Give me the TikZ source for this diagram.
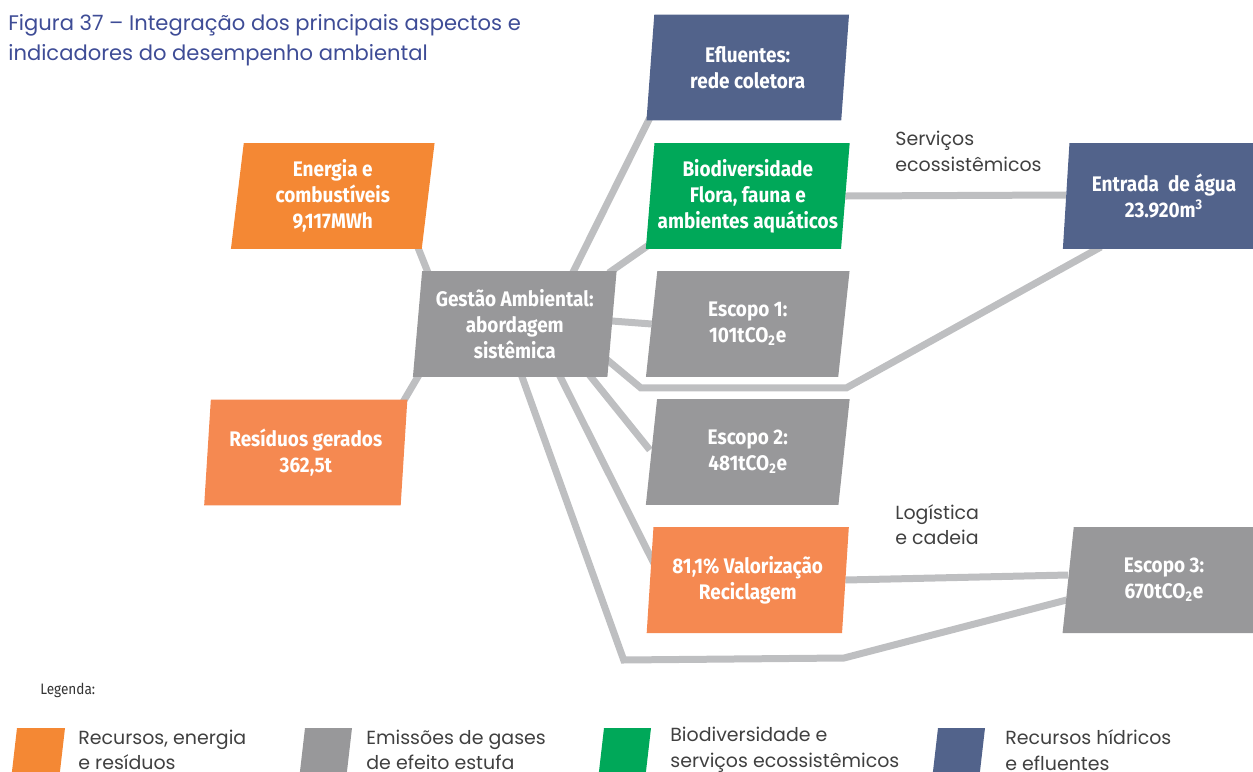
\documentclass[tikz,border=0pt]{standalone}
\usepackage{fontspec}
\setmainfont{Poppins}
\newfontfamily\condfont[FakeStretch=0.9]{Fira Sans}
\usetikzlibrary{shapes.geometric,backgrounds}

\definecolor{laranja}{RGB}{244,136,52}
\definecolor{salmao}{RGB}{245,137,81}
\definecolor{cinza}{RGB}{152,152,154}
\definecolor{verde}{RGB}{0,168,89}
\definecolor{azul}{RGB}{82,99,139}
\definecolor{elocor}{RGB}{190,191,193}
\definecolor{titulo}{RGB}{62,76,150}
\definecolor{texto}{RGB}{64,64,64}

\tikzset{
  bloco/.style={trapezium, trapezium left angle=83.5, trapezium right angle=96.5,
    trapezium stretches=true, minimum width=4.08cm, minimum height=2.12cm,
    inner sep=0pt, outer sep=0pt, align=center, text=white,
    font=\condfont\bfseries\fontsize{12}{14.7}\selectfont},
  elo/.style={draw=elocor, line width=0.14cm},
  nota/.style={anchor=west, align=left, inner sep=0pt, text=texto,
    font=\fontsize{10.8}{14.6}\selectfont}
}

\begin{document}
\begin{tikzpicture}[x=0.02cm, y=-0.02cm]
	\useasboundingbox (0,0) rectangle (1253,771);
	\clip (0,0) rectangle (1253,771);

	\node[anchor=north west, inner sep=0pt, align=left, text=titulo,
		font=\fontsize{12}{17}\selectfont] (tit) at (8,14)
		{Figura 37 – Integração dos principais aspectos e\\indicadores do desempenho ambiental};

	% blocos
	\node[bloco, fill=azul] (eflu) at (747.75,67.5) {Efluentes:\\rede coletora};
	\node[bloco, fill=verde] (bio) at (747.75,196) {Biodiversidade\\Flora, fauna e\\ambientes aquáticos};
	\node[bloco, fill=cinza] (esc1) at (747.75,324) {Escopo 1:\\101tCO\textsubscript{2}e};
	\node[bloco, fill=cinza] (esc2) at (747.75,452) {Escopo 2:\\481tCO\textsubscript{2}e};
	\node[bloco, fill=salmao] (valor) at (747.75,580) {81,1\% Valorização\\Reciclagem};
	\node[bloco, fill=laranja] (ener) at (332.75,196) {Energia e\\combustíveis\\9,117MWh};
	\node[bloco, fill=salmao] (resid) at (305.75,452.5) {Resíduos gerados\\362,5t};
	\node[bloco, fill=cinza] (gest) at (514.75,324) {Gestão Ambiental:\\abordagem\\sistêmica};
	\node[bloco, fill=azul] (entr) at (1164,196) {Entrada~ de água\\23.920m\textsuperscript{3}};
	\node[bloco, fill=cinza] (esc3) at (1164,580) {Escopo 3:\\670tCO\textsubscript{2}e};

	\node[nota, anchor=north west] (serv) at (895,131) {Serviços\\ecossistêmicos};
	\node[nota, anchor=north west] (logi) at (895,504) {Logística\\e cadeia};

	% ligacoes
	\coordinate (k1) at ([shift={(-5,11)}]esc1.bottom left corner);
	\coordinate (k2) at ([shift={(8,11)}]esc1.bottom right corner);
	\coordinate (k3) at ([shift={(-23,27)}]valor.bottom left corner);
	\coordinate (k4) at ([shift={(2,25)}]valor.bottom right corner);
	\begin{scope}[on background layer]
		\draw[elo] ([shift={(-4,-2)}]ener.bottom right corner) -- ([shift={(6,2)}]gest.top left corner);
		\draw[elo] ([shift={(-4,2)}]resid.top right corner) -- ([shift={(6,-2)}]gest.bottom left corner);
		\draw[elo] ([shift={(-44,2)}]gest.top right corner) -- ([shift={(4,-4)}]eflu.bottom left corner);
		\draw[elo] ([shift={(-8,2)}]gest.top right corner) -- ([shift={(3,-4)}]bio.bottom left corner);
		\draw[elo] ([shift={(0,-3)}]gest.east) -- (esc1.west);
		\draw[elo] ([shift={(-6,-22)}]gest.bottom right corner) -- (k1) -- (k2)
			-- ([shift={(38,-2)}]entr.bottom left corner);
		\draw[elo] ([shift={(-18,-2)}]gest.bottom right corner) -- ([shift={(4,-55)}]esc2.bottom left corner);
		\draw[elo] ([shift={(-48,-2)}]gest.bottom right corner) -- ([shift={(10,-64)}]valor.bottom left corner);
		\draw[elo] ([shift={(-86,-2)}]gest.bottom right corner) -- (k3) -- (k4)
			-- ([shift={(4,-33)}]esc3.bottom left corner);
		\draw[elo] (valor.east) -- ([shift={(0,-5)}]esc3.west);
		\draw[elo] (bio.east) -- ([shift={(0,-1)}]entr.west);
	\end{scope}

	% legenda
	\node[anchor=west, inner sep=0pt, text=texto!80!black,
		font=\condfont\fontsize{8.6}{11}\selectfont] (leg) at (40,690) {Legenda:};
	\fill[laranja] (17,728) -- (65,728) -- (59,780) -- (11,780) -- cycle;
	\fill[cinza] (305,728) -- (352,728) -- (346,780) -- (299,780) -- cycle;
	\fill[verde] (604,728) -- (651,728) -- (645,780) -- (598,780) -- cycle;
	\fill[azul] (938,728) -- (985,728) -- (979,780) -- (932,780) -- cycle;
	\node[nota] (lt1) at (78,750) {Recursos, energia\\e resíduos};
	\node[nota] (lt2) at (366,750) {Emissões de gases\\de efeito estufa};
	\node[nota] (lt3) at (670,750) {Biodiversidade e\\serviços ecossistêmicos};
	\node[nota] (lt4) at (1005,750) {Recursos hídricos\\e efluentes};
\end{tikzpicture}
\end{document}
